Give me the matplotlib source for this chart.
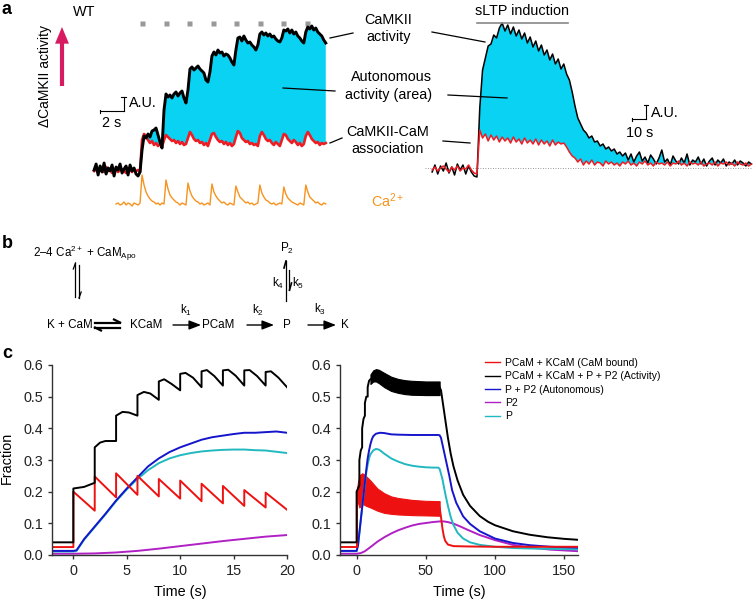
import numpy as np
import matplotlib
matplotlib.use('Agg')
import matplotlib.pyplot as plt
from matplotlib.transforms import Affine2D
from matplotlib.lines import Line2D
from matplotlib.patches import FancyArrowPatch

plt.rcParams['font.family'] = ['Liberation Sans', 'DejaVu Sans']
plt.rcParams['mathtext.fontset'] = 'custom'
plt.rcParams['mathtext.rm'] = 'Liberation Sans'
plt.rcParams['mathtext.it'] = 'Liberation Sans:italic'
plt.rcParams['mathtext.bf'] = 'Liberation Sans:bold'

# ======================= DATA =======================
# ---- panel a, left: WT, train of 8 stimuli (activity in A.U.) ----
DT_A = 0.17          # s per sample
T0_A = -4.08         # time of first sample (s)
black_a = [-2, 4, -7, 2, -4, 5, -6, 0, -3, 3, -8, 1, -2, 4, -5, -1, 2, -7, 3, -3, 0, -6, -8, -4,
           18, 32, 30, 34, 31, 37, 38, 40, 33, 26,
           20, 58, 74, 71, 73, 70, 74, 76, 72, 75,
           77, 70, 65, 78, 99, 101, 98, 100, 102, 99,
           97, 95, 88, 86, 96, 112, 116, 113, 118, 115,
           116, 112, 114, 113, 110, 106, 103, 118, 130, 131,
           127, 132, 128, 125, 126, 123, 121, 118, 123, 134,
           136, 133, 135, 132, 134, 131, 132, 129, 127, 126,
           130, 138, 137, 139, 135, 138, 134, 136, 132, 130,
           127, 125, 136, 141, 139, 142, 138, 140, 136, 134,
           132, 128, 125]
red_a = [-3, -1, -5, 0, -2, -4, 1, -3, -1, -5, -2, 0, -4, -2, -1, -3, -5, 0, -2, -4, -1, -3, -2, -4,
         28, 34, 32, 28, 25, 27, 23, 25, 22, 24,
         21, 28, 33, 31, 29, 27, 28, 25, 27, 24,
         26, 23, 24, 30, 36, 33, 29, 27, 28, 25,
         26, 23, 25, 22, 28, 34, 35, 31, 28, 26,
         27, 24, 26, 23, 25, 22, 24, 31, 37, 35,
         30, 28, 26, 27, 24, 25, 23, 24, 22, 32,
         36, 33, 29, 27, 28, 25, 23, 26, 24, 22,
         28, 34, 33, 29, 27, 25, 28, 26, 23, 25,
         22, 24, 32, 36, 33, 29, 27, 25, 26, 23,
         25, 24, 25]
T0_CA = -2.21
ca_a = [0, 1, -1, 0, 2, -1, 1, 0, -2, 1, 0, -1, 1,
        29, 19, 12, 8, 5, 3, 2, 0, 1, -1, 1,
        0, 24, 15, 9, 6, 4, 2, 1, -1, 1, 0, -1,
        21, 13, 8, 5, 3, 2, 0, 1, -1, 0, 1, -1,
        20, 12, 8, 5, 3, 1, 2, 0, -1, 1, 0, -1,
        18, 12, 7, 5, 3, 1, 2, 0, 1, -1, 0, 1,
        19, 11, 7, 4, 3, 1, 0, 1, -1, 0, 1, 0,
        17, 10, 6, 4, 2, 1, 0, -1, 1, 0, -1,
        19, 12, 7, 5, 3, 1, 2, 0, -1, 1, 0]
stim_a = [0, 2, 4, 6, 8, 10, 12, 14]

# ---- panel a, right: sLTP induction ----
t_r = np.arange(-32, 197, 2)
black_r = [-4, 3, -6, 2, -3, 5, -5, 1, -7, 4, -2, 3, -6, 2, -4, -8,
           -9, 60, 98, 110, 122, 124, 133, 130, 140, 145,
           137, 143, 134, 141, 132, 138, 129, 135, 125, 131,
           121, 127, 117, 123, 113, 118, 108, 114, 104, 109,
           99, 104, 94, 88, 76, 62, 50, 44, 38, 35,
           30, 32, 26, 27, 22, 24, 19, 21, 17, 19,
           14, 16, 12, 15, 8, 14, 6, 12, 16, 7,
           11, 5, 13, 9, 4, 10, 18, 6, 9, 3,
           12, 7, 4, 10, 5, 14, 3, 8, 6, 11,
           4, 9, 2, 7, 10, 3, 8, 5, 9, 2,
           6, 4, 8, 3, 7, 5, 2, 6, 4]
red_r = [-2, 1, -3, 0, 2, -1, -4, 1, -2, 2, -3, 0, -1, 3, -2, -5,
         -6, 38, 30, 34, 27, 33, 28, 32, 26, 31,
         27, 30, 25, 31, 26, 29, 24, 30, 25, 28,
         24, 29, 23, 28, 24, 27, 22, 28, 23, 26,
         24, 25, 21, 16, 12, 10, 6, 9, 3, 7,
         4, 8, 3, 6, 5, 2, 7, 4, 6, 3,
         5, 2, 6, 4, 7, 3, 5, 2, 6, 4,
         7, 3, 5, 2, 6, 4, 5, 3, 6, 2,
         5, 4, 7, 3, 5, 2, 6, 4, 5, 3,
         6, 2, 4, 5, 3, 6, 2, 5, 4, 6,
         3, 5, 2, 6, 4, 3, 5, 2, 4]
sltp_window = [0, 65]

# ---- panel c, left: model, 10 stimuli every 2 s ----
t_kL = [-2, 0, 0, 1, 2, 2, 2.5, 3, 4, 4, 4.6, 5.2, 6, 6, 6.6, 7.2, 8, 8, 8.5, 9.2, 10,
        10, 10.5, 11.2, 12, 12, 12.5, 13.2, 14, 14, 14.5, 15.2, 16, 16, 16.5, 17.2, 18,
        18, 18.5, 19.2, 20]
k_L = [0.04, 0.04, 0.21, 0.215, 0.228, 0.34, 0.355, 0.36, 0.36, 0.44, 0.452, 0.45, 0.44,
       0.505, 0.515, 0.51, 0.49, 0.548, 0.555, 0.54, 0.52, 0.572, 0.575, 0.56, 0.53,
       0.58, 0.584, 0.565, 0.535, 0.583, 0.585, 0.566, 0.535, 0.583, 0.584, 0.565, 0.535,
       0.578, 0.58, 0.56, 0.53]
t_rL = [-2, 0, 0, 2, 2, 4, 4, 6, 6, 8, 8, 10, 10, 12, 12, 14, 14, 16, 16, 18, 18, 20]
r_L = [0.025, 0.025, 0.20, 0.14, 0.248, 0.182, 0.258, 0.19, 0.25, 0.185, 0.24, 0.178,
       0.235, 0.17, 0.225, 0.163, 0.218, 0.155, 0.205, 0.15, 0.197, 0.143]
t_sL = [-2, 0, 0.3, 1, 2, 3, 4, 5, 6, 7, 8, 9, 10, 11, 12, 13, 14, 15, 16, 17, 18, 19, 20]
b_L = [0.013, 0.013, 0.015, 0.05, 0.09, 0.13, 0.172, 0.21, 0.245, 0.28, 0.305, 0.325, 0.34,
       0.352, 0.364, 0.372, 0.377, 0.382, 0.386, 0.386, 0.388, 0.39, 0.386]
c_L = [0.011, 0.011, 0.013, 0.048, 0.088, 0.128, 0.17, 0.207, 0.24, 0.268, 0.29, 0.305, 0.315,
       0.322, 0.327, 0.33, 0.332, 0.333, 0.333, 0.331, 0.33, 0.326, 0.322]
t_mL = [-2, 0, 2, 4, 6, 8, 10, 12, 14, 16, 18, 20]
m_L = [0.004, 0.004, 0.005, 0.008, 0.013, 0.02, 0.028, 0.036, 0.044, 0.051, 0.058, 0.063]

# ---- panel c, right: model, 60 s sLTP protocol ----
t_kR = [-12, 0, 0, 1, 2, 2, 3, 4, 4, 5, 6, 6, 7, 8, 8, 9, 10]
k_R = [0.04, 0.04, 0.2, 0.21, 0.22, 0.3, 0.33, 0.34, 0.4, 0.43, 0.44, 0.48, 0.5, 0.5, 0.53, 0.55, 0.555]
t_kR_band = [10, 12, 14, 16, 20, 25, 30, 35, 40, 50, 60]
k_R_up = [0.57, 0.583, 0.587, 0.585, 0.575, 0.563, 0.556, 0.552, 0.55, 0.548, 0.548]
k_R_lo = [0.54, 0.548, 0.548, 0.543, 0.53, 0.518, 0.512, 0.508, 0.506, 0.505, 0.505]
t_kR_post = [60, 61, 62, 64, 66, 68, 70, 73, 77, 82, 89, 95, 100, 113, 125, 138, 150, 160]
k_R_post = [0.53, 0.52, 0.49, 0.43, 0.37, 0.32, 0.28, 0.235, 0.19, 0.155, 0.123, 0.105, 0.094,
            0.075, 0.064, 0.056, 0.051, 0.048]
t_rR = [-12, 0, 0]
r_R = [0.025, 0.025, 0.2]
t_rR_band = [0.3, 1, 2, 3, 4, 5, 7, 10, 15, 20, 25, 30, 40, 50, 60]
r_R_up = [0.21, 0.23, 0.25, 0.255, 0.258, 0.256, 0.248, 0.235, 0.21, 0.195, 0.185, 0.18, 0.174, 0.171, 0.17]
r_R_lo = [0.19, 0.165, 0.15, 0.155, 0.16, 0.16, 0.155, 0.15, 0.14, 0.133, 0.13, 0.128, 0.126, 0.125, 0.124]
t_rR_post = [60, 61, 62, 63, 64, 66, 70, 80, 100, 160]
r_R_post = [0.15, 0.12, 0.085, 0.06, 0.045, 0.033, 0.028, 0.027, 0.026, 0.026]
t_bR = [-12, 0, 1, 2, 3, 4, 5, 6, 7, 8, 9, 10, 11, 12, 14, 17, 20, 25, 30, 40, 50, 59, 60, 61,
        63, 65, 67, 69, 72, 77, 82, 89, 100, 113, 125, 140, 160]
b_R = [0.013, 0.013, 0.03, 0.07, 0.11, 0.15, 0.19, 0.23, 0.27, 0.305, 0.33, 0.35, 0.365, 0.375,
       0.383, 0.386, 0.385, 0.381, 0.38, 0.379, 0.379, 0.379, 0.378, 0.37, 0.33, 0.29, 0.25,
       0.205, 0.165, 0.122, 0.098, 0.075, 0.052, 0.038, 0.031, 0.026, 0.023]
t_cR = [-12, 0, 1, 2, 3, 4, 5, 6, 7, 8, 9, 10, 12, 14, 16, 18, 20, 25, 30, 35, 40, 45, 50, 55,
        59, 60, 62, 64, 66, 68, 70, 73, 77, 82, 89, 100, 113, 130, 160]
c_R = [0.012, 0.012, 0.03, 0.07, 0.11, 0.15, 0.19, 0.225, 0.26, 0.285, 0.305, 0.318, 0.33,
       0.335, 0.333, 0.327, 0.32, 0.305, 0.295, 0.287, 0.282, 0.279, 0.277, 0.276, 0.276,
       0.272, 0.24, 0.195, 0.155, 0.12, 0.095, 0.07, 0.052, 0.04, 0.032, 0.026, 0.022, 0.02, 0.018]
t_mR = [-12, 0, 3, 6, 10, 15, 20, 25, 30, 35, 40, 45, 50, 55, 60, 63, 66, 70, 75, 80, 89, 100,
        113, 125, 140, 160]
m_R = [0.004, 0.004, 0.006, 0.012, 0.025, 0.042, 0.056, 0.068, 0.078, 0.086, 0.093, 0.098,
       0.101, 0.104, 0.106, 0.106, 0.104, 0.099, 0.09, 0.08, 0.063, 0.047, 0.032, 0.024, 0.017, 0.012]

legend_labels = ['PCaM + KCaM (CaM bound)', 'PCaM + KCaM + P + P2 (Activity)',
                 'P + P2 (Autonomous)', 'P2', 'P']
yticks_c = [0.0, 0.1, 0.2, 0.3, 0.4, 0.5, 0.6]
xticks_cL = [0, 5, 10, 15, 20]
xticks_cR = [0, 50, 100, 150]

# ======================= STYLE =======================
RED = '#ee1c24'
CYAN_FILL = '#0ad2f2'
ORANGE = '#f7931e'
PINK = '#d81b60'
C_RED = '#ee1111'
C_BLUE = '#1515cc'
C_CYAN = '#22b8c0'
C_MAG = '#b020c4'
W, H = 753, 600
FS = 10.4

fig = plt.figure(figsize=(W / 100, H / 100), dpi=100)
px = Affine2D().scale(1 / W, -1 / H).translate(0, 1) + fig.transFigure


def ax_px(x0, y0, x1, y1):
    return fig.add_axes([x0 / W, 1 - y1 / H, (x1 - x0) / W, (y1 - y0) / H])


def ftext(x, y, s, **kw):
    kw.setdefault('ha', 'center')
    kw.setdefault('va', 'center')
    kw.setdefault('fontsize', FS)
    return fig.text(x, y, s, transform=px, **kw)


def fline(xs, ys, **kw):
    kw.setdefault('color', 'k')
    kw.setdefault('lw', 0.9)
    fig.add_artist(Line2D(xs, ys, transform=px, **kw))


def farrow(p0, p1, ms=8, lw=1.0, style='-|>,head_length=0.9,head_width=0.35'):
    fig.add_artist(FancyArrowPatch(p0, p1, transform=px, arrowstyle=style,
                                   mutation_scale=ms, lw=lw, color='k',
                                   shrinkA=0, shrinkB=0))

# ======================= PANEL a =======================
ftext(2, 10, 'a', fontsize=13, fontweight='bold', ha='left')
ftext(84, 12, 'WT')
ftext(45, 76, '\u0394CaMKII activity', rotation=90, fontsize=10)
fig.add_artist(FancyArrowPatch((62, 86), (62, 27), transform=px,
                               arrowstyle='simple,head_width=1.0,head_length=1.2,tail_width=0.3',
                               mutation_scale=10, color=PINK, lw=0, shrinkA=0, shrinkB=0))

axA = ax_px(90, 15, 330, 210)
axA.set_xlim(-4.43, 16.0)
axA.set_ylim(-42, 153)
axA.axis('off')
tb = T0_A + np.arange(len(black_a)) * DT_A
bA = np.array(black_a, float)
rA = np.array(red_a, float)
axA.fill_between(tb, rA, bA, where=(tb > 0.3) & (bA > rA), interpolate=True,
                 color=CYAN_FILL, lw=0, zorder=1)
axA.plot(tb, rA, color=RED, lw=1.9, zorder=2)
axA.plot(tb, bA, color='k', lw=2.1, zorder=3)
tc = T0_CA + np.arange(len(ca_a)) * DT_A
axA.plot(tc, -36 + np.array(ca_a, float), color=ORANGE, lw=1.0)
axA.plot(stim_a, np.full(len(stim_a), 145.0), ls='none', marker='s', ms=3.6,
         color='#999999', mec='none')
# scale bar (2 s, A.U.)
axA.plot([-3.57, -1.57], [57, 57], color='k', lw=0.8)
axA.plot([-3.57, -3.57], [55.5, 58.5], color='k', lw=0.8)
axA.plot([-1.57, -1.57], [57, 71], color='k', lw=0.8)
axA.plot([-1.75, -1.39], [71, 71], color='k', lw=0.8)
axA.text(-1.1, 65, 'A.U.', fontsize=FS, ha='left', va='center')
axA.text(-2.57, 45, '2 s', fontsize=FS, ha='center', va='center')

axB = ax_px(425, 15, 753, 210)
axB.set_xlim(-37.1, 197.1)
axB.set_ylim(-42, 153)
axB.axis('off')
bR = np.array(black_r, float)
rR = np.array(red_r, float)
axB.axhline(0, color='#777777', lw=0.6, ls=(0, (1, 2)))
axB.fill_between(t_r, rR, bR, where=(t_r > 0) & (bR > rR), interpolate=True,
                 color=CYAN_FILL, lw=0, zorder=1)
axB.plot(t_r, bR, color='k', lw=1.1, zorder=2)
axB.plot(t_r, rR, color=RED, lw=1.1, zorder=3)
axB.plot(sltp_window, [145, 145], color='#888888', lw=1.2)
axB.text(np.mean(sltp_window), 157, 'sLTP induction', fontsize=FS, ha='center', va='center')
axB.plot([110.7, 120.7], [49, 49], color='k', lw=0.8)
axB.plot([110.7, 110.7], [47.5, 50.5], color='k', lw=0.8)
axB.plot([120.7, 120.7], [49, 63], color='k', lw=0.8)
axB.plot([119.5, 121.9], [63, 63], color='k', lw=0.8)
axB.text(124.5, 55, 'A.U.', fontsize=FS, ha='left', va='center')
axB.text(116.5, 35, '10 s', fontsize=FS, ha='center', va='center')

# labels and leader lines
ftext(388, 20, 'CaMKII')
ftext(389, 37, 'activity')
ftext(391, 77, 'Autonomous')
ftext(389, 95, 'activity (area)')
ftext(388, 132, 'CaMKII-CaM')
ftext(388, 149, 'association')
ftext(388, 201, 'Ca$^{2+}$', color=ORANGE)
fline([330, 353], [38, 33])
fline([432, 485], [32, 42])
fline([283, 335], [88, 91])
fline([448, 507], [95, 98])
fline([330, 342], [143, 138])
fline([443, 470], [141, 143])

# ======================= PANEL b =======================
FB = 8.4
ftext(2, 243, 'b', fontsize=13, fontweight='bold', ha='left')
ftext(33, 253, '2\u20134 Ca$^{2+}$ + CaM$_{\\mathrm{Apo}}$', ha='left', fontsize=FB)
# vertical equilibrium harpoons
fline([75.5, 75.5], [263, 297], lw=0.9)
fline([75.5, 73.3], [263, 269], lw=0.9)
fline([79, 79], [265, 298], lw=0.9)
fline([79, 81.2], [298, 292], lw=0.9)
ftext(70, 325, 'K + CaM', fontsize=FB)
# horizontal equilibrium harpoons
fline([95, 120], [322.5, 322.5], lw=1.6)
fline([120, 114], [322.5, 319.5], lw=1.6)
fline([95, 120], [327.5, 327.5], lw=1.6)
fline([95, 101], [327.5, 330.5], lw=1.6)
ftext(146, 325, 'KCaM', fontsize=FB)
farrow((173, 325), (201, 325))
ftext(186, 310, 'k$_1$', fontsize=FB)
ftext(218.5, 325, 'PCaM', fontsize=FB)
farrow((247, 325), (274, 325))
ftext(258, 310, 'k$_2$', fontsize=FB)
ftext(287, 325, 'P', fontsize=FB)
farrow((308, 325), (336, 325))
ftext(320, 309, 'k$_3$', fontsize=FB)
ftext(345, 325, 'K', fontsize=FB)
ftext(287, 248, 'P$_2$', fontsize=FB)
fline([286, 286], [261, 301], lw=0.9)
fline([286, 284], [261, 268], lw=1.2)
fline([289.5, 289.5], [270, 290], lw=0.9)
fline([289.5, 291.5], [290, 283], lw=1.2)
ftext(278, 283, 'k$_4$', fontsize=FB)
ftext(298, 283, 'k$_5$', fontsize=FB)

# ======================= PANEL c =======================
ftext(2, 353, 'c', fontsize=13, fontweight='bold', ha='left')


def style_c(ax, xt):
    for s in ('top', 'right'):
        ax.spines[s].set_visible(False)
    for s in ('left', 'bottom'):
        ax.spines[s].set_linewidth(1.0)
        ax.spines[s].set_color('#333333')
    ax.set_ylim(0, 0.6)
    ax.set_yticks(yticks_c)
    ax.set_yticklabels(['%.1f' % v for v in yticks_c])
    ax.set_xticks(xt)
    ax.tick_params(labelsize=FS, length=3, width=1.0, color='#333333', labelcolor='#222222')


axL = ax_px(52, 365, 287, 555)
style_c(axL, xticks_cL)
axL.set_xlim(-2, 20)
LW = 1.4
axL.plot(t_mL, m_L, color=C_MAG, lw=LW)
axL.plot(t_sL, c_L, color=C_CYAN, lw=LW)
axL.plot(t_sL, b_L, color=C_BLUE, lw=LW)
axL.plot(t_rL, r_L, color=C_RED, lw=LW)
axL.plot(t_kL, k_L, color='k', lw=LW)

axR = ax_px(340, 365, 578, 555)
style_c(axR, xticks_cR)
axR.set_xlim(-12, 160)
axR.plot(t_mR, m_R, color=C_MAG, lw=LW)
axR.plot(t_cR, c_R, color=C_CYAN, lw=LW)
axR.plot(t_bR, b_R, color=C_BLUE, lw=LW)
axR.plot(t_rR, r_R, color=C_RED, lw=LW)
axR.fill_between(t_rR_band, r_R_lo, r_R_up, color=C_RED, lw=0.8, ec=C_RED)
axR.plot(t_rR_post, r_R_post, color=C_RED, lw=LW)
axR.plot(t_kR, k_R, color='k', lw=LW)
axR.fill_between(t_kR_band, k_R_lo, k_R_up, color='k', lw=0.8, ec='k')
axR.plot(t_kR_post, k_R_post, color='k', lw=LW)

ftext(7, 458, 'Fraction', rotation=90)
ftext(180, 592, 'Time (s)')
ftext(459, 592, 'Time (s)')

handles = [Line2D([], [], color=c, lw=1.0) for c in (C_RED, 'k', C_BLUE, C_MAG, C_CYAN)]
fig.legend(handles, legend_labels, loc='upper left', bbox_to_anchor=(485 / W, 1 - 358 / H),
           frameon=False, fontsize=7.5, handlelength=1.45, handletextpad=0.5,
           labelspacing=0.32, borderpad=0, borderaxespad=0)

fig.savefig('out.png', dpi=100)
